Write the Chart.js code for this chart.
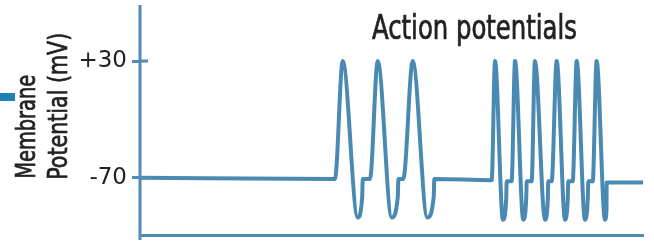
<!DOCTYPE html>
<html>
<head>
<meta charset="utf-8">
<script src="https://cdn.jsdelivr.net/npm/chart.js@4/dist/chart.umd.min.js"></script>
<style>
  html, body { margin: 0; padding: 0; background: #fff; }
  #wrap { width: 654px; height: 246px; position: relative; }
</style>
</head>
<body>
<div id="wrap"><canvas id="trace"></canvas></div>
<script>
// time (ms) and membrane potential (mV)
const TIME = [0, 193.8, 201.5, 216.4, 220.9, 221.4, 228.6, 236.3, 250.2, 256.3, 256.8, 261.7, 271.1, 285.6, 292.0, 292.5,
  349.6, 352.9, 360.8, 364.0, 364.5, 369.4, 372.8, 381.0, 383.9, 384.4, 389.3, 392.6, 402.6, 405.4, 405.8, 409.2,
  414.2, 422.5, 425.2, 425.7, 430.1, 434.1, 442.3, 445.1, 445.6, 450.0, 453.9, 462.2, 463.7, 463.9, 500];
const MV = [-70, -71, 30, -104, -86, -71, -71, 30, -104, -86, -71, -71, 30, -104, -86, -71,
  -72, 30, -106, -88, -73, -73, 30, -106, -88, -73, -73, 30, -106, -88, -73, -73,
  30, -106, -88, -73, -73, 30, -106, -88, -73, -73, 30, -106, -98, -74, -74];

const Y_TICKS = [30, -70];
const Y_TICK_LABELS = ['+30', '-70'];
const Y_TITLE = ['Membrane', 'Potential (mV)'];
const TITLE = 'Action potentials';

const LINE = '#4a8ab2';
const AXIS = '#4f8db5';
const INK = '#222';
const HAND = '"DejaVu Sans Condensed", "DejaVu Sans", sans-serif';

// draw text squeezed sideways so it fills a given width (a touch heavier too)
function narrowText(ctx, text, x, y, width) {
  const w = ctx.measureText(text).width;
  ctx.save();
  ctx.translate(x, y);
  ctx.scale(width / w, 1);
  ctx.fillText(text, 0, 0);
  ctx.strokeText(text, 0, 0);
  ctx.restore();
}

// extra bits: inner half of ticks, axis overhang, texts
const decor = {
  id: 'decor',
  afterDraw(chart) {
    const { ctx, chartArea: a, scales: { y } } = chart;
    ctx.save();
    ctx.strokeStyle = AXIS;
    ctx.lineWidth = 3;
    y.ticks.forEach(t => {
      const py = y.getPixelForValue(t.value);
      ctx.beginPath();
      ctx.moveTo(a.left, py);
      ctx.lineTo(a.left + 8, py);
      ctx.stroke();
    });
    ctx.beginPath();
    ctx.moveTo(a.left, a.top);
    ctx.lineTo(a.left, a.bottom + 5);
    ctx.stroke();

    // little blue stub at the far left
    ctx.fillStyle = '#1f80b3';
    ctx.fillRect(0, 93, 15, 8);

    ctx.fillStyle = INK;
    ctx.strokeStyle = INK;
    ctx.lineWidth = 0.7;
    ctx.textAlign = 'left';
    ctx.textBaseline = 'alphabetic';
    ctx.font = '33px ' + HAND;
    narrowText(ctx, TITLE, 372, 39, 205);

    // axis title, rotated, starting near the -70 tick
    const base = y.getPixelForValue(-70);
    ctx.font = '27px ' + HAND;
    ctx.translate(35, base);
    ctx.rotate(-Math.PI / 2);
    narrowText(ctx, Y_TITLE[0], -1, 0, 104);
    narrowText(ctx, Y_TITLE[1], -2, 32, 147);
    ctx.restore();
  }
};

new Chart(document.getElementById('trace'), {
  type: 'line',
  data: {
    datasets: [{
      data: TIME.map((t, i) => ({ x: t, y: MV[i] })),
      borderColor: LINE,
      borderWidth: 4,
      pointRadius: 0,
      fill: false,
      cubicInterpolationMode: 'monotone'
    }]
  },
  options: {
    responsive: true,
    maintainAspectRatio: false,
    animation: false,
    layout: { padding: { top: 5, right: 11, left: 0, bottom: 0 } },
    plugins: { legend: { display: false }, tooltip: { enabled: false } },
    scales: {
      x: {
        type: 'linear',
        min: 0,
        max: 500,
        ticks: { display: false },
        grid: { display: false },
        border: { display: true, color: AXIS, width: 3 },
        afterFit(s) { s.height = 11; s.paddingLeft = 0; s.paddingRight = 0; }
      },
      y: {
        min: -119,
        max: 78,
        afterBuildTicks(s) { s.ticks = Y_TICKS.map(v => ({ value: v })); },
        ticks: {
          color: INK,
          padding: 5,
          font: { family: 'DejaVu Sans', size: 23 },
          callback: (v) => Y_TICK_LABELS[Y_TICKS.indexOf(v)]
        },
        grid: { drawOnChartArea: false, drawTicks: true, tickLength: 8, color: AXIS, lineWidth: 3 },
        border: { display: false },
        afterFit(s) { s.width = 140; s.paddingTop = 0; s.paddingBottom = 0; }
      }
    }
  },
  plugins: [decor]
});
</script>
</body>
</html>
